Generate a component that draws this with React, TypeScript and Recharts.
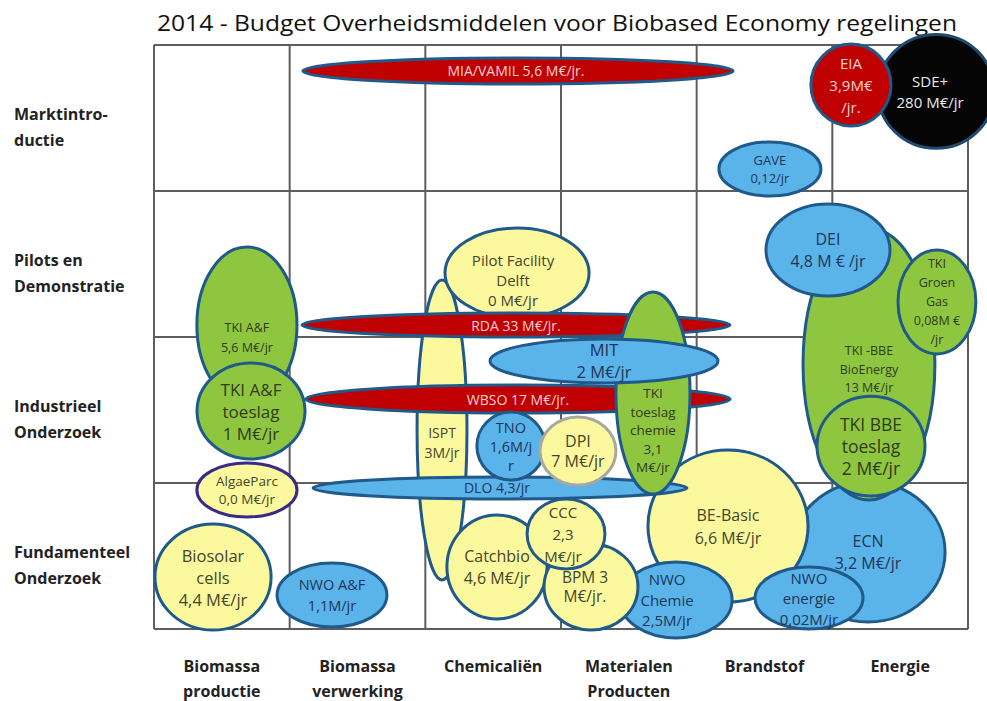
import React from 'react';
import { ScatterChart, Scatter, XAxis, YAxis, CartesianGrid } from 'recharts';

// ---------- data ----------
const columnLabels: string[][] = [
  ['Biomassa', 'productie'],
  ['Biomassa', 'verwerking'],
  ['Chemicaliën'],
  ['Materialen', 'Producten'],
  ['Brandstof'],
  ['Energie'],
];
// bottom row first
const phaseLabels: string[][] = [
  ['Fundamenteel', 'Onderzoek'],
  ['Industrieel', 'Onderzoek'],
  ['Pilots en', 'Demonstratie'],
  ['Marktintro-', 'ductie'],
];
const columnTicks = [0.5, 1.5, 2.5, 3.5, 4.5, 5.5];
const phaseTicks = [0.5, 1.5, 2.5, 3.5];
const gridColumns = [0, 1, 2, 3, 4, 5, 6];
const gridRows = [0, 1, 2, 3, 4];

// schemes in drawing order (back to front)
const names = [
  'SDE+', 'EIA', 'MIA/VAMIL', 'GAVE', 'ECN', 'TKI-BBE', 'DEI', 'TKI Groen Gas',
  'TKI BBE toeslag', 'BE-Basic', 'NWO energie', 'ISPT', 'Pilot Facility Delft',
  'TKI A&F', 'TKI A&F toeslag', 'RDA', 'WBSO', 'DLO', 'TKI toeslag chemie', 'MIT',
  'TNO', 'DPI', 'AlgaeParc', 'Biosolar cells', 'NWO A&F', 'Catchbio', 'NWO Chemie',
  'BPM 3', 'CCC',
];
const kinds = [
  'black', 'red', 'red', 'blue', 'blue', 'green', 'blue', 'green',
  'green', 'yellow', 'blue', 'yellow', 'yellow',
  'green', 'green', 'red', 'red', 'blue', 'green', 'blue',
  'blue', 'yellow', 'yellow', 'yellow', 'blue', 'yellow', 'blue',
  'yellow', 'yellow',
];
const centerX = [
  5.765, 5.137, 2.683, 4.54, 5.263, 5.27, 4.968, 5.771,
  5.285, 4.231, 4.828, 2.123, 2.676,
  0.685, 0.715, 2.668, 2.683, 2.55, 3.678, 3.317,
  2.631, 3.125, 0.685, 0.435, 1.312, 2.528, 3.848,
  3.221, 3.037,
];
const centerY = [
  3.682, 3.726, 3.822, 3.151, 0.527, 1.815, 2.596, 2.24,
  1.253, 0.705, 0.212, 1.363, 2.438,
  2.082, 1.493, 2.082, 1.575, 0.966, 1.616, 1.836,
  1.253, 1.219, 0.952, 0.356, 0.233, 0.425, 0.199,
  0.288, 0.651,
];
const radiusX = [
  0.43, 0.295, 1.585, 0.376, 0.568, 0.486, 0.457, 0.287,
  0.398, 0.59, 0.398, 0.184, 0.531,
  0.369, 0.398, 1.577, 1.563, 1.378, 0.273, 0.84,
  0.251, 0.28, 0.369, 0.428, 0.405, 0.369, 0.413,
  0.346, 0.287,
];
const radiusY = [
  0.39, 0.281, 0.089, 0.185, 0.479, 0.932, 0.315, 0.356,
  0.342, 0.521, 0.212, 1.027, 0.308,
  0.534, 0.329, 0.082, 0.096, 0.075, 0.692, 0.151,
  0.233, 0.233, 0.185, 0.363, 0.219, 0.356, 0.26,
  0.295, 0.24,
];
const labels = [
  'SDE+|280 M€/jr', 'EIA|3,9M€|/jr.', 'MIA/VAMIL 5,6 M€/jr.', 'GAVE|0,12/jr',
  'ECN|3,2 M€/jr', 'TKI -BBE|BioEnergy|13 M€/jr', 'DEI|4,8 M € /jr',
  'TKI|Groen|Gas|0,08M €|/jr', 'TKI BBE|toeslag|2 M€/jr', 'BE-Basic|6,6 M€/jr',
  'NWO|energie|0,02M/jr', 'ISPT|3M/jr', 'Pilot Facility|Delft|0 M€/jr',
  'TKI A&F|5,6 M€/jr', 'TKI A&F|toeslag|1 M€/jr', 'RDA 33 M€/jr.', 'WBSO 17 M€/jr.',
  'DLO 4,3/jr', 'TKI|toeslag|chemie|3,1|M€/jr', 'MIT|2 M€/jr', 'TNO|1,6M/j|r',
  'DPI|7 M€/jr', 'AlgaeParc|0,0 M€/jr', 'Biosolar|cells|4,4 M€/jr', 'NWO A&F|1,1M/jr',
  'Catchbio|4,6 M€/jr', 'NWO|Chemie|2,5M/jr', 'BPM 3|M€/jr.', 'CCC|2,3|M€/jr',
];

const schemes = names.map((name, i) => ({
  name,
  kind: kinds[i],
  x: centerX[i],
  y: centerY[i],
  rx: radiusX[i],
  ry: radiusY[i],
  label: labels[i],
}));

// ---------- layout / style ----------
const CHART_W = 987;
const CHART_H = 701;
const MARGIN = { top: 45, right: 19, bottom: 0, left: 0 };
const X_AXIS_H = 72;
const Y_AXIS_W = 154;
const X_MAX = 6;
const Y_MAX = 4;
const PX_PER_X = (CHART_W - MARGIN.left - MARGIN.right - Y_AXIS_W) / X_MAX;
const PX_PER_Y = (CHART_H - MARGIN.top - MARGIN.bottom - X_AXIS_H) / Y_MAX;
const FONT = "'Open Sans', 'DejaVu Sans', sans-serif";

const KIND_STYLE: Record<string, { fill: string; stroke: string; text: string }> = {
  red: { fill: '#c00000', stroke: '#1f5a8a', text: '#f6d3d3' },
  blue: { fill: '#5ab4ea', stroke: '#1f5a8a', text: '#1d3557' },
  yellow: { fill: '#fbf89e', stroke: '#1f5a8a', text: '#45452a' },
  green: { fill: '#8fc640', stroke: '#1f5a8a', text: '#2f3a1a' },
  black: { fill: '#050505', stroke: '#1f4a70', text: '#e8e8e8' },
};
const STROKE_OVERRIDE: Record<string, string> = {
  DPI: '#a8a8a0',
  AlgaeParc: '#3a2a86',
};
const LABEL_STYLE: Record<string, { size: number; lh?: number; dx?: number; dy?: number }> = {
  'SDE+': { size: 15, lh: 21, dx: -6 },
  EIA: { size: 15, lh: 22 },
  'MIA/VAMIL': { size: 14, dx: -2 },
  GAVE: { size: 13, lh: 18 },
  ECN: { size: 16, lh: 22 },
  'TKI-BBE': { size: 12.5, lh: 18.5, dy: 5 },
  DEI: { size: 16, lh: 22 },
  'TKI Groen Gas': { size: 12.5, lh: 19 },
  'TKI BBE toeslag': { size: 17.5, lh: 22 },
  'BE-Basic': { size: 16, lh: 23 },
  'NWO energie': { size: 15, lh: 20.5 },
  ISPT: { size: 14, lh: 20, dy: 12 },
  'Pilot Facility Delft': { size: 15, lh: 20, dx: -4, dy: 7 },
  'TKI A&F': { size: 12.5, lh: 20, dy: 12 },
  'TKI A&F toeslag': { size: 17, lh: 22 },
  RDA: { size: 14 },
  WBSO: { size: 14 },
  DLO: { size: 14, dx: -3 },
  'TKI toeslag chemie': { size: 13.5, lh: 18.5, dy: 37 },
  MIT: { size: 16.5, lh: 22 },
  TNO: { size: 14.5, lh: 19 },
  DPI: { size: 16, lh: 20 },
  AlgaeParc: { size: 13.5, lh: 18 },
  'Biosolar cells': { size: 16.5, lh: 22 },
  'NWO A&F': { size: 14.5, lh: 21 },
  Catchbio: { size: 16, lh: 22 },
  'NWO Chemie': { size: 15, lh: 20.5, dx: -9 },
  'BPM 3': { size: 15.5, lh: 19, dx: -6 },
  CCC: { size: 15, lh: 22, dx: -3 },
};

const renderEllipse = (props: any) => {
  const { cx, cy, payload } = props;
  if (cx == null || cy == null || !payload) return <g />;
  const rx = payload.rx * PX_PER_X;
  const ry = payload.ry * PX_PER_Y;
  const ks = KIND_STYLE[payload.kind];
  const ls = LABEL_STYLE[payload.name] || { size: 14 };
  const lh = ls.lh ?? ls.size * 1.35;
  const lines: string[] = String(payload.label).split('|');
  const tx = cx + (ls.dx ?? 0);
  const ty = cy + (ls.dy ?? 0);
  return (
    <g>
      <ellipse
        cx={cx}
        cy={cy}
        rx={rx}
        ry={ry}
        fill={ks.fill}
        stroke={STROKE_OVERRIDE[payload.name] ?? ks.stroke}
        strokeWidth={3}
      />
      <text x={tx} textAnchor="middle" fontFamily={FONT} fontSize={ls.size} fill={ks.text}>
        {lines.map((ln, i) => (
          <tspan key={i} x={tx} y={ty + (i - (lines.length - 1) / 2) * lh} dominantBaseline="central">
            {ln}
          </tspan>
        ))}
      </text>
    </g>
  );
};

const ColumnTick = (props: any) => {
  const { x, y, payload } = props;
  const idx = columnTicks.indexOf(payload.value);
  const lines = columnLabels[idx] || [];
  return (
    <text textAnchor="middle" fontFamily={FONT} fontWeight="bold" fontSize={16} fill="#222">
      {lines.map((ln, i) => (
        <tspan key={i} x={x} y={y + 43 + i * 25}>
          {ln}
        </tspan>
      ))}
    </text>
  );
};

const PHASE_LABEL_X = 14;
const PhaseTick = (props: any) => {
  const { y, payload } = props;
  const idx = phaseTicks.indexOf(payload.value);
  const lines = phaseLabels[idx] || [];
  return (
    <text textAnchor="start" fontFamily={FONT} fontWeight="bold" fontSize={16} fill="#222">
      {lines.map((ln, i) => (
        <tspan key={i} x={PHASE_LABEL_X} y={y + 2 + i * 26}>
          {ln}
        </tspan>
      ))}
    </text>
  );
};

const verticalGen = (p: any) =>
  gridColumns.map((v) =>
    p && p.xAxis && typeof p.xAxis.scale === 'function'
      ? p.xAxis.scale(v)
      : (p?.offset?.left ?? Y_AXIS_W) + v * PX_PER_X
  );
const horizontalGen = (p: any) =>
  gridRows.map((v) =>
    p && p.yAxis && typeof p.yAxis.scale === 'function'
      ? p.yAxis.scale(v)
      : (p?.offset?.top ?? MARGIN.top) + (Y_MAX - v) * PX_PER_Y
  );

export default function App() {
  return (
    <div style={{ position: 'absolute', left: 0, top: 0, width: CHART_W, height: CHART_H, background: '#fff' }}>
      <svg width={CHART_W} height={40} style={{ position: 'absolute', left: 0, top: 0, pointerEvents: 'none' }}>
        <text
          x={557}
          y={31}
          textAnchor="middle"
          fontFamily={FONT}
          fontSize={22}
          fill="#111"
          textLength={800}
          lengthAdjust="spacingAndGlyphs"
        >
          2014 - Budget Overheidsmiddelen voor Biobased Economy regelingen
        </text>
      </svg>
      <ScatterChart width={CHART_W} height={CHART_H} margin={MARGIN}>
        <CartesianGrid
          stroke="#5e5e5e"
          strokeWidth={2}
          verticalCoordinatesGenerator={verticalGen}
          horizontalCoordinatesGenerator={horizontalGen}
        />
        <XAxis
          type="number"
          dataKey="x"
          domain={[0, X_MAX]}
          ticks={columnTicks}
          interval={0}
          height={X_AXIS_H}
          axisLine={false}
          tickLine={false}
          tickSize={0}
          tickMargin={0}
          tick={<ColumnTick />}
        />
        <YAxis
          type="number"
          dataKey="y"
          domain={[0, Y_MAX]}
          ticks={phaseTicks}
          interval={0}
          width={Y_AXIS_W}
          axisLine={false}
          tickLine={false}
          tickSize={0}
          tickMargin={0}
          tick={<PhaseTick />}
        />
        <Scatter data={schemes} shape={renderEllipse} isAnimationActive={false} />
      </ScatterChart>
    </div>
  );
}
